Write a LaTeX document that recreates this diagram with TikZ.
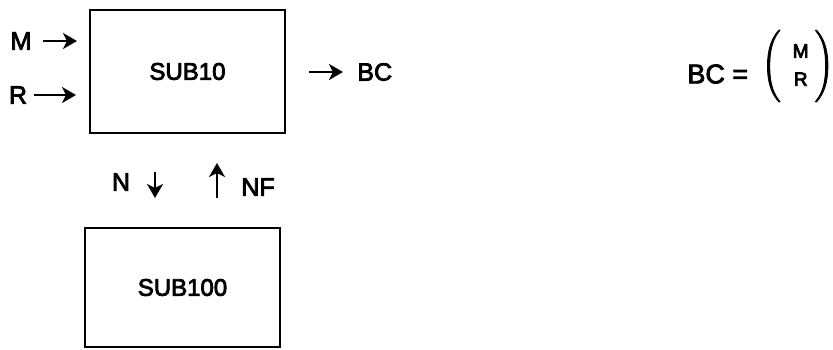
\documentclass[tikz,border=0pt]{standalone}
\usepackage{fontspec}
\usepackage{amsmath}
\setmainfont{Liberation Sans}
\usetikzlibrary{arrows.meta}
\newcommand{\medon}{\special{pdf:literal direct 2 Tr 0.4 w}}
\newcommand{\medoff}{\special{pdf:literal direct 0 Tr}}
\tikzset{
	heavy/.style={execute at begin node=\medon, execute at end node=\medoff},
	subbox/.style={draw, line width=1pt, minimum width=97.5pt, minimum height=61.5pt, inner sep=0pt, heavy, font=\fontsize{12}{14}\selectfont},
	lbl/.style={inner sep=1pt, heavy, font=\fontsize{12.5}{14}\selectfont},
	flow/.style={line width=1.4pt, -{Stealth[length=7pt, width=8pt, inset=2pt]}}
}
\begin{document}
\begin{tikzpicture}[x=0.5pt, y=0.5pt]
	\useasboundingbox (0, 0) rectangle (833, 349);

	\node[subbox] (sub10) at (187.5, 277.5) {SUB10};
	\node[subbox, minimum height=59.5pt] (sub100) at (182.5, 61.5) {SUB100};

	% inputs of SUB10
	\node[lbl] (m) at (21, 308) {M};
	\node[lbl] (r) at (18, 254) {R};
	\draw[flow, shorten <=4.5pt, shorten >=6pt] (m) -- (m -| sub10.west);
	\draw[flow, shorten <=2.5pt, shorten >=6.5pt] (r) -- (r -| sub10.west);

	% output of SUB10
	\node[lbl, anchor=west] (bc) at (355, 277) {BC};
	\draw[flow, shorten <=11.5pt, shorten >=6pt] (sub10.east |- bc) -- (bc);

	% exchange with SUB100
	\coordinate (ntop) at (155, 177);
	\coordinate (nbot) at (155, 151);
	\coordinate (ftop) at (217, 186);
	\coordinate (fbot) at (217, 151);
	\draw[flow] (ntop) -- (nbot);
	\draw[flow] (fbot) -- (ftop);
	\node[lbl] (n) at (121, 167) {N};
	\node[lbl] (nf) at (258, 162) {NF};

	% definition of BC
	\node[lbl, anchor=west, font=\fontsize{13.5}{16}\selectfont] (eqlhs) at (685, 275) {BC =};
	\node[lbl, anchor=east, inner sep=0pt] (vec) at (834, 283)
		{\fontsize{13}{14}\selectfont$\Bigg(\begin{array}{@{\hspace{6pt}}c@{\hspace{3pt}}}\text{\fontsize{9.5}{11}\selectfont M}\\\text{\fontsize{9.5}{11}\selectfont R}\end{array}\Bigg)$};
\end{tikzpicture}
\end{document}
